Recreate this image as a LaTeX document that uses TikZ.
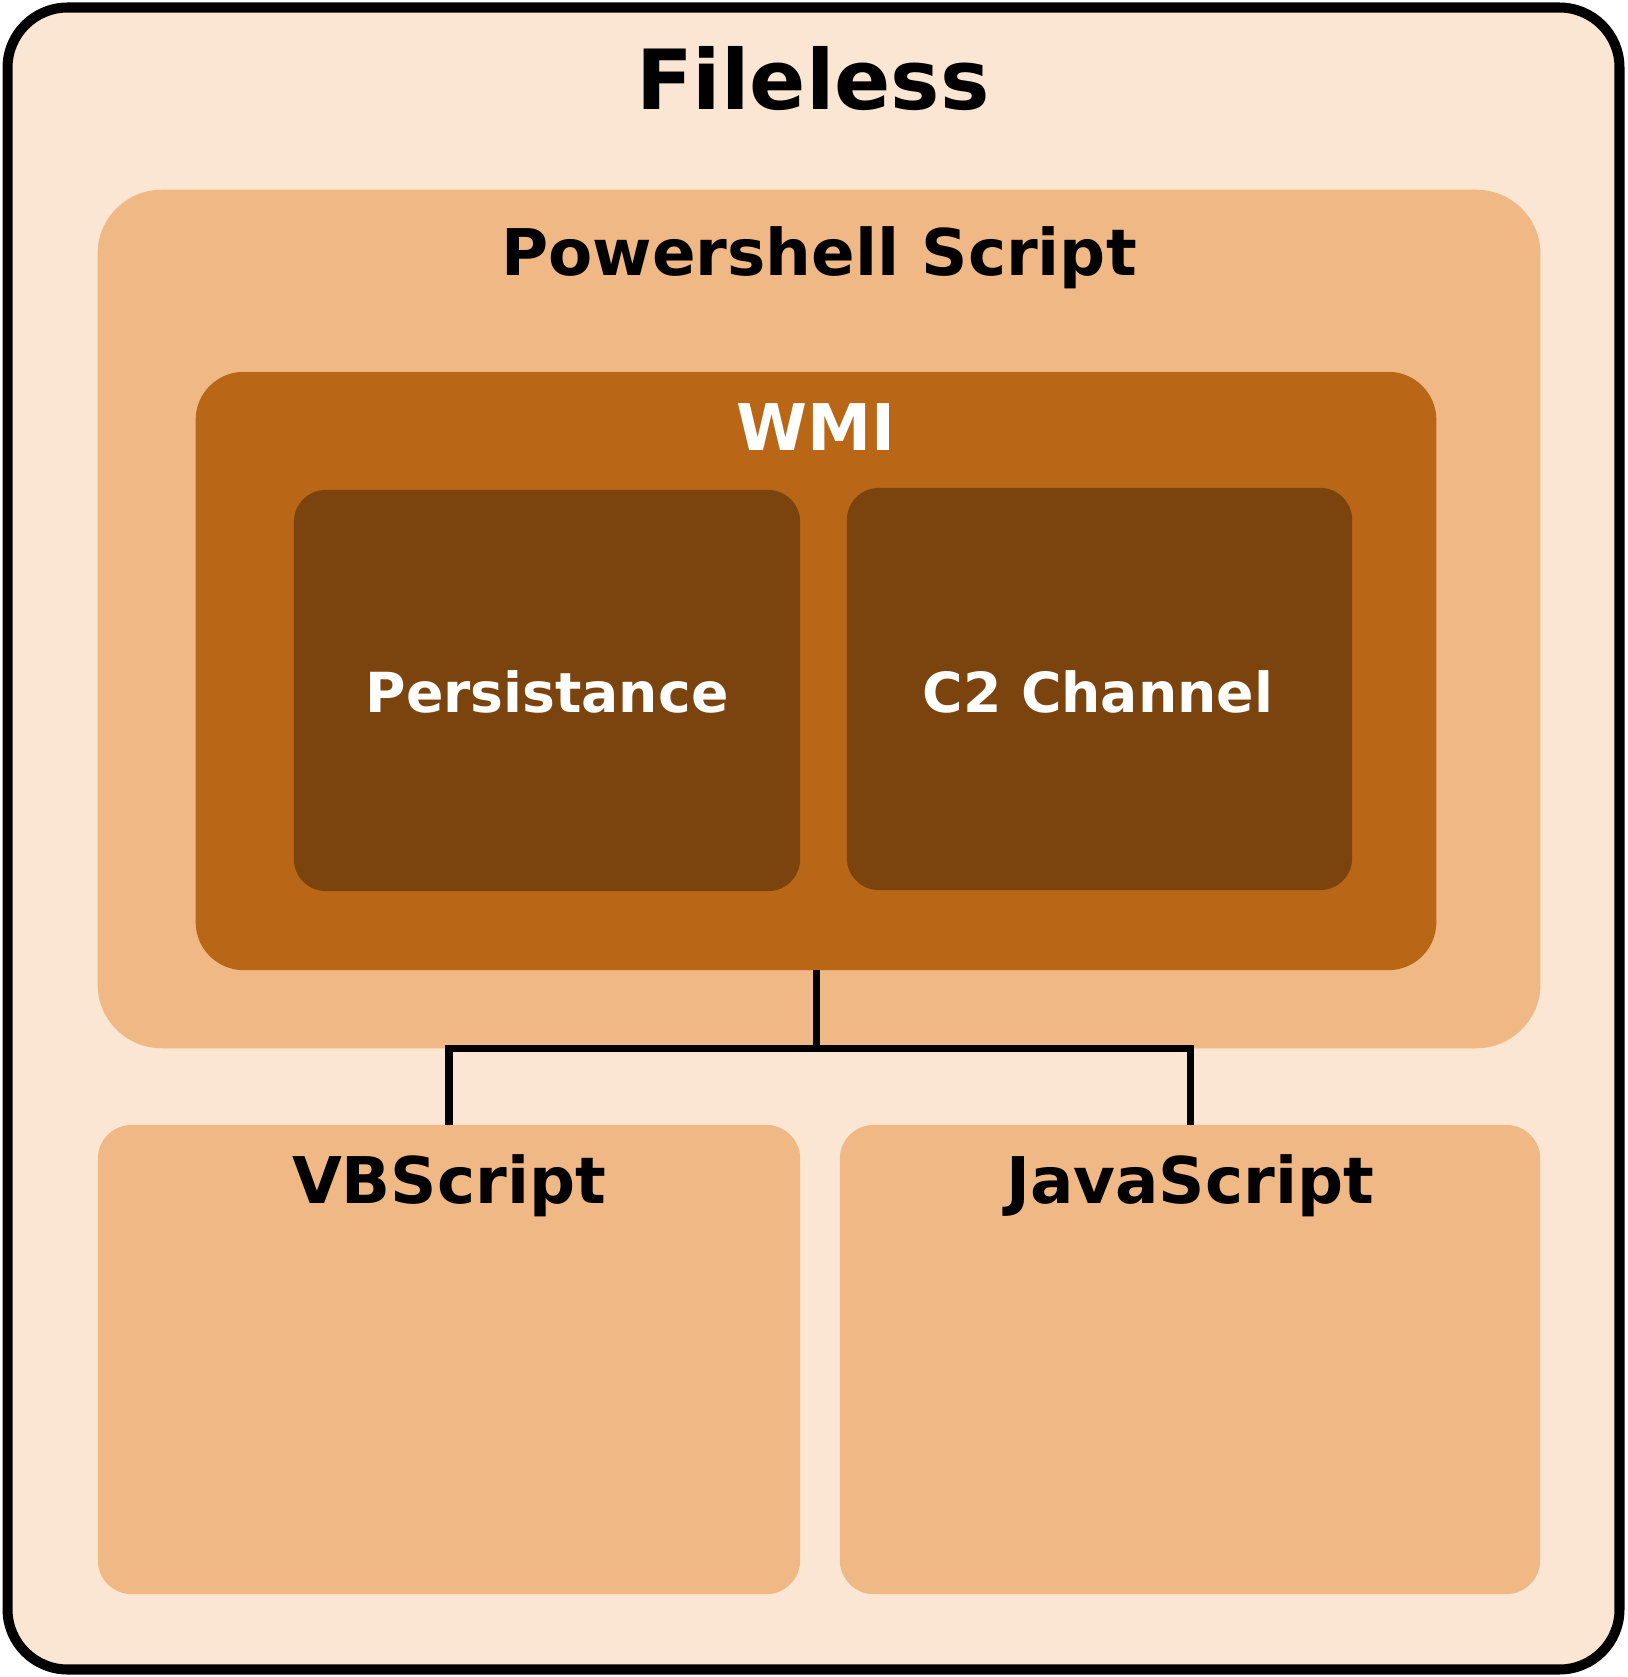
\documentclass[tikz,border=0pt]{standalone}
\usepackage{fontspec}
\setmainfont{DejaVu Sans}
\definecolor{palebg}{RGB}{250,230,211}
\definecolor{scriptbg}{RGB}{240,184,132}
\definecolor{wmibg}{RGB}{185,103,22}
\definecolor{innerbg}{RGB}{123,68,15}
\tikzset{
  panel/.style={draw=none, inner sep=0pt, outer sep=0pt, rounded corners=#1},
  bigtitle/.style={anchor=base, inner sep=0pt, font=\fontsize{23.6}{30}\selectfont\bfseries},
  midtitle/.style={anchor=base, inner sep=0pt, font=\fontsize{18.3}{22}\selectfont\bfseries},
  smalltitle/.style={anchor=base, inner sep=0pt, text=white, font=\fontsize{15.7}{20}\selectfont\bfseries},
  link/.style={line width=2pt}
}
\begin{document}
\begin{tikzpicture}[x=0.01cm, y=-0.01cm]
  \useasboundingbox (0,0) rectangle (1627,1677);
  % containers
  \node[panel=0.6cm, fill=palebg, draw=black, line width=2.85pt, minimum width=16.11cm, minimum height=16.61cm] (fileless) at (813.5,838.5) {};
  \node[panel=0.64cm, fill=scriptbg, minimum width=14.42cm, minimum height=8.58cm] (ps) at (819,619) {};
  \node[panel=0.48cm, fill=wmibg, minimum width=12.40cm, minimum height=5.98cm] (wmi) at (816,671) {};
  \node[panel=0.32cm, fill=innerbg, minimum width=5.06cm, minimum height=4.01cm] (pers) at (547,690.5) {};
  \node[panel=0.32cm, fill=innerbg, minimum width=5.05cm, minimum height=4.02cm] (c2) at (1099.5,689) {};
  \node[panel=0.34cm, fill=scriptbg, minimum width=7.02cm, minimum height=4.69cm] (vbs) at (449,1359.5) {};
  \node[panel=0.34cm, fill=scriptbg, minimum width=7.00cm, minimum height=4.69cm] (js) at (1190,1359.5) {};
  % titles
  \node[bigtitle] (filelesstext) at (813,110) {Fileless};
  \node[midtitle] (pstext) at (819,276) {Powershell Script};
  \node[midtitle, text=white] (wmitext) at (816,451) {WMI};
  \node[smalltitle] (perstext) at (547,713) {Persistance};
  \node[smalltitle] (c2text) at (1098,712) {C2 Channel};
  \node[midtitle] (vbstext) at (449,1203) {VBScript};
  \node[midtitle] (jstext) at (1190,1203) {JavaScript};
  % connectors
  \coordinate (split) at (wmi.south |- ps.south);
  \draw[link] (wmi.south) -- (split) -| (vbs.north);
  \draw[link] (split) -| (js.north);
\end{tikzpicture}
\end{document}
